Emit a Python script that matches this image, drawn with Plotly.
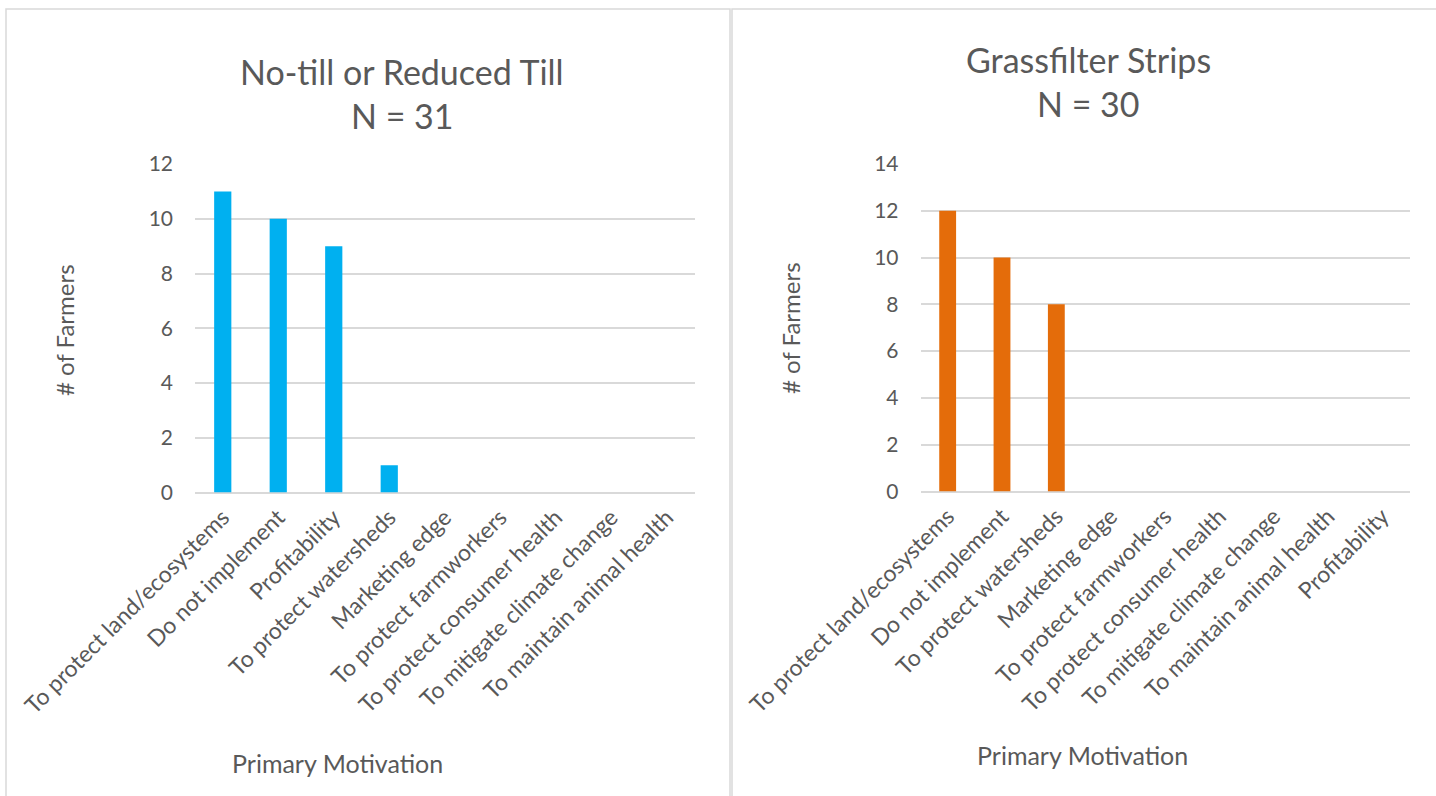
import plotly.graph_objects as go

# Survey counts: primary motivation for adopting each conservation practice
till_categories = [
    "To protect land/ecosystems", "Do not implement", "Profitability",
    "To protect watersheds", "Marketing edge", "To protect farmworkers",
    "To protect consumer health", "To mitigate climate change",
    "To maintain animal health",
]
till_counts = [11, 10, 9, 1, 0, 0, 0, 0, 0]

grass_categories = [
    "To protect land/ecosystems", "Do not implement", "To protect watersheds",
    "Marketing edge", "To protect farmworkers", "To protect consumer health",
    "To mitigate climate change", "To maintain animal health", "Profitability",
]
grass_counts = [12, 10, 8, 0, 0, 0, 0, 0, 0]

till_title = ["No-till or Reduced Till", "N = 31"]
grass_title = ["Grassfilter Strips", "N = 30"]
y_title = "# of Farmers"
x_title = "Primary Motivation"

W, H = 1436, 796
FONT = "Lato"
TXT = "#595959"
GRID = "#D9D9D9"


def px(x):
    return x / W


def py(y):
    return 1 - y / H


fig = go.Figure()
fig.add_trace(go.Bar(x=till_categories, y=till_counts, marker_color="#00B0F0",
                     marker_line_width=0, xaxis="x", yaxis="y", showlegend=False))
fig.add_trace(go.Bar(x=grass_categories, y=grass_counts, marker_color="#E46C0A",
                     marker_line_width=0, xaxis="x2", yaxis="y2", showlegend=False))

xcommon = dict(tickangle=-45, tickfont=dict(family=FONT, size=23, color=TXT),
               showgrid=False, showline=False, ticks="", zeroline=False,
               ticklabelstandoff=6, automargin=False)
ycommon = dict(tickfont=dict(family=FONT, size=21, color=TXT), dtick=2,
               showgrid=True, gridcolor=GRID, gridwidth=2, zeroline=True,
               zerolinecolor=GRID, zerolinewidth=2, showline=False, ticks="",
               ticklabelstandoff=21, automargin=False)

fig.update_layout(
    width=W, height=H,
    margin=dict(l=0, r=0, t=0, b=0, autoexpand=False),
    paper_bgcolor="white", plot_bgcolor="white",
    bargap=0.69,
    font=dict(family=FONT, color=TXT),
    xaxis=dict(domain=[px(195), px(694.5)], anchor="y", **xcommon),
    yaxis=dict(domain=[py(492.5), py(164)], anchor="x", range=[0, 12], **ycommon),
    xaxis2=dict(domain=[px(920.5), px(1409.5)], anchor="y2", **xcommon),
    yaxis2=dict(domain=[py(491.5), py(164)], anchor="x2", range=[0, 14], **ycommon),
)

# panel frames
fig.add_shape(type="rect", xref="paper", yref="paper",
              x0=px(6), x1=px(730), y0=py(820), y1=py(9),
              line=dict(color=GRID, width=1.5), fillcolor="rgba(0,0,0,0)")
fig.add_shape(type="rect", xref="paper", yref="paper",
              x0=px(732), x1=px(1460), y0=py(820), y1=py(9),
              line=dict(color=GRID, width=1.5), fillcolor="rgba(0,0,0,0)")


def note(text, cx, cy, size, angle=0):
    fig.add_annotation(text=text, x=px(cx), y=py(cy), xref="paper", yref="paper",
                       xanchor="center", yanchor="middle", showarrow=False,
                       textangle=angle, font=dict(family=FONT, size=size, color=TXT))


# chart titles
for (line1, line2), cx, y1, y2 in [(till_title, 402, 72, 116),
                                    (grass_title, 1088, 60, 103)]:
    note(line1, cx, y1, 34)
    note(line2, cx, y2, 34)

# axis titles
for cx, cy in [(65, 330), (790, 328)]:
    note(y_title, cx, cy, 24, -90)
for cx, cy in [(337, 763), (1082, 755)]:
    note(x_title, cx, cy, 25)

fig.write_html("out.html")
